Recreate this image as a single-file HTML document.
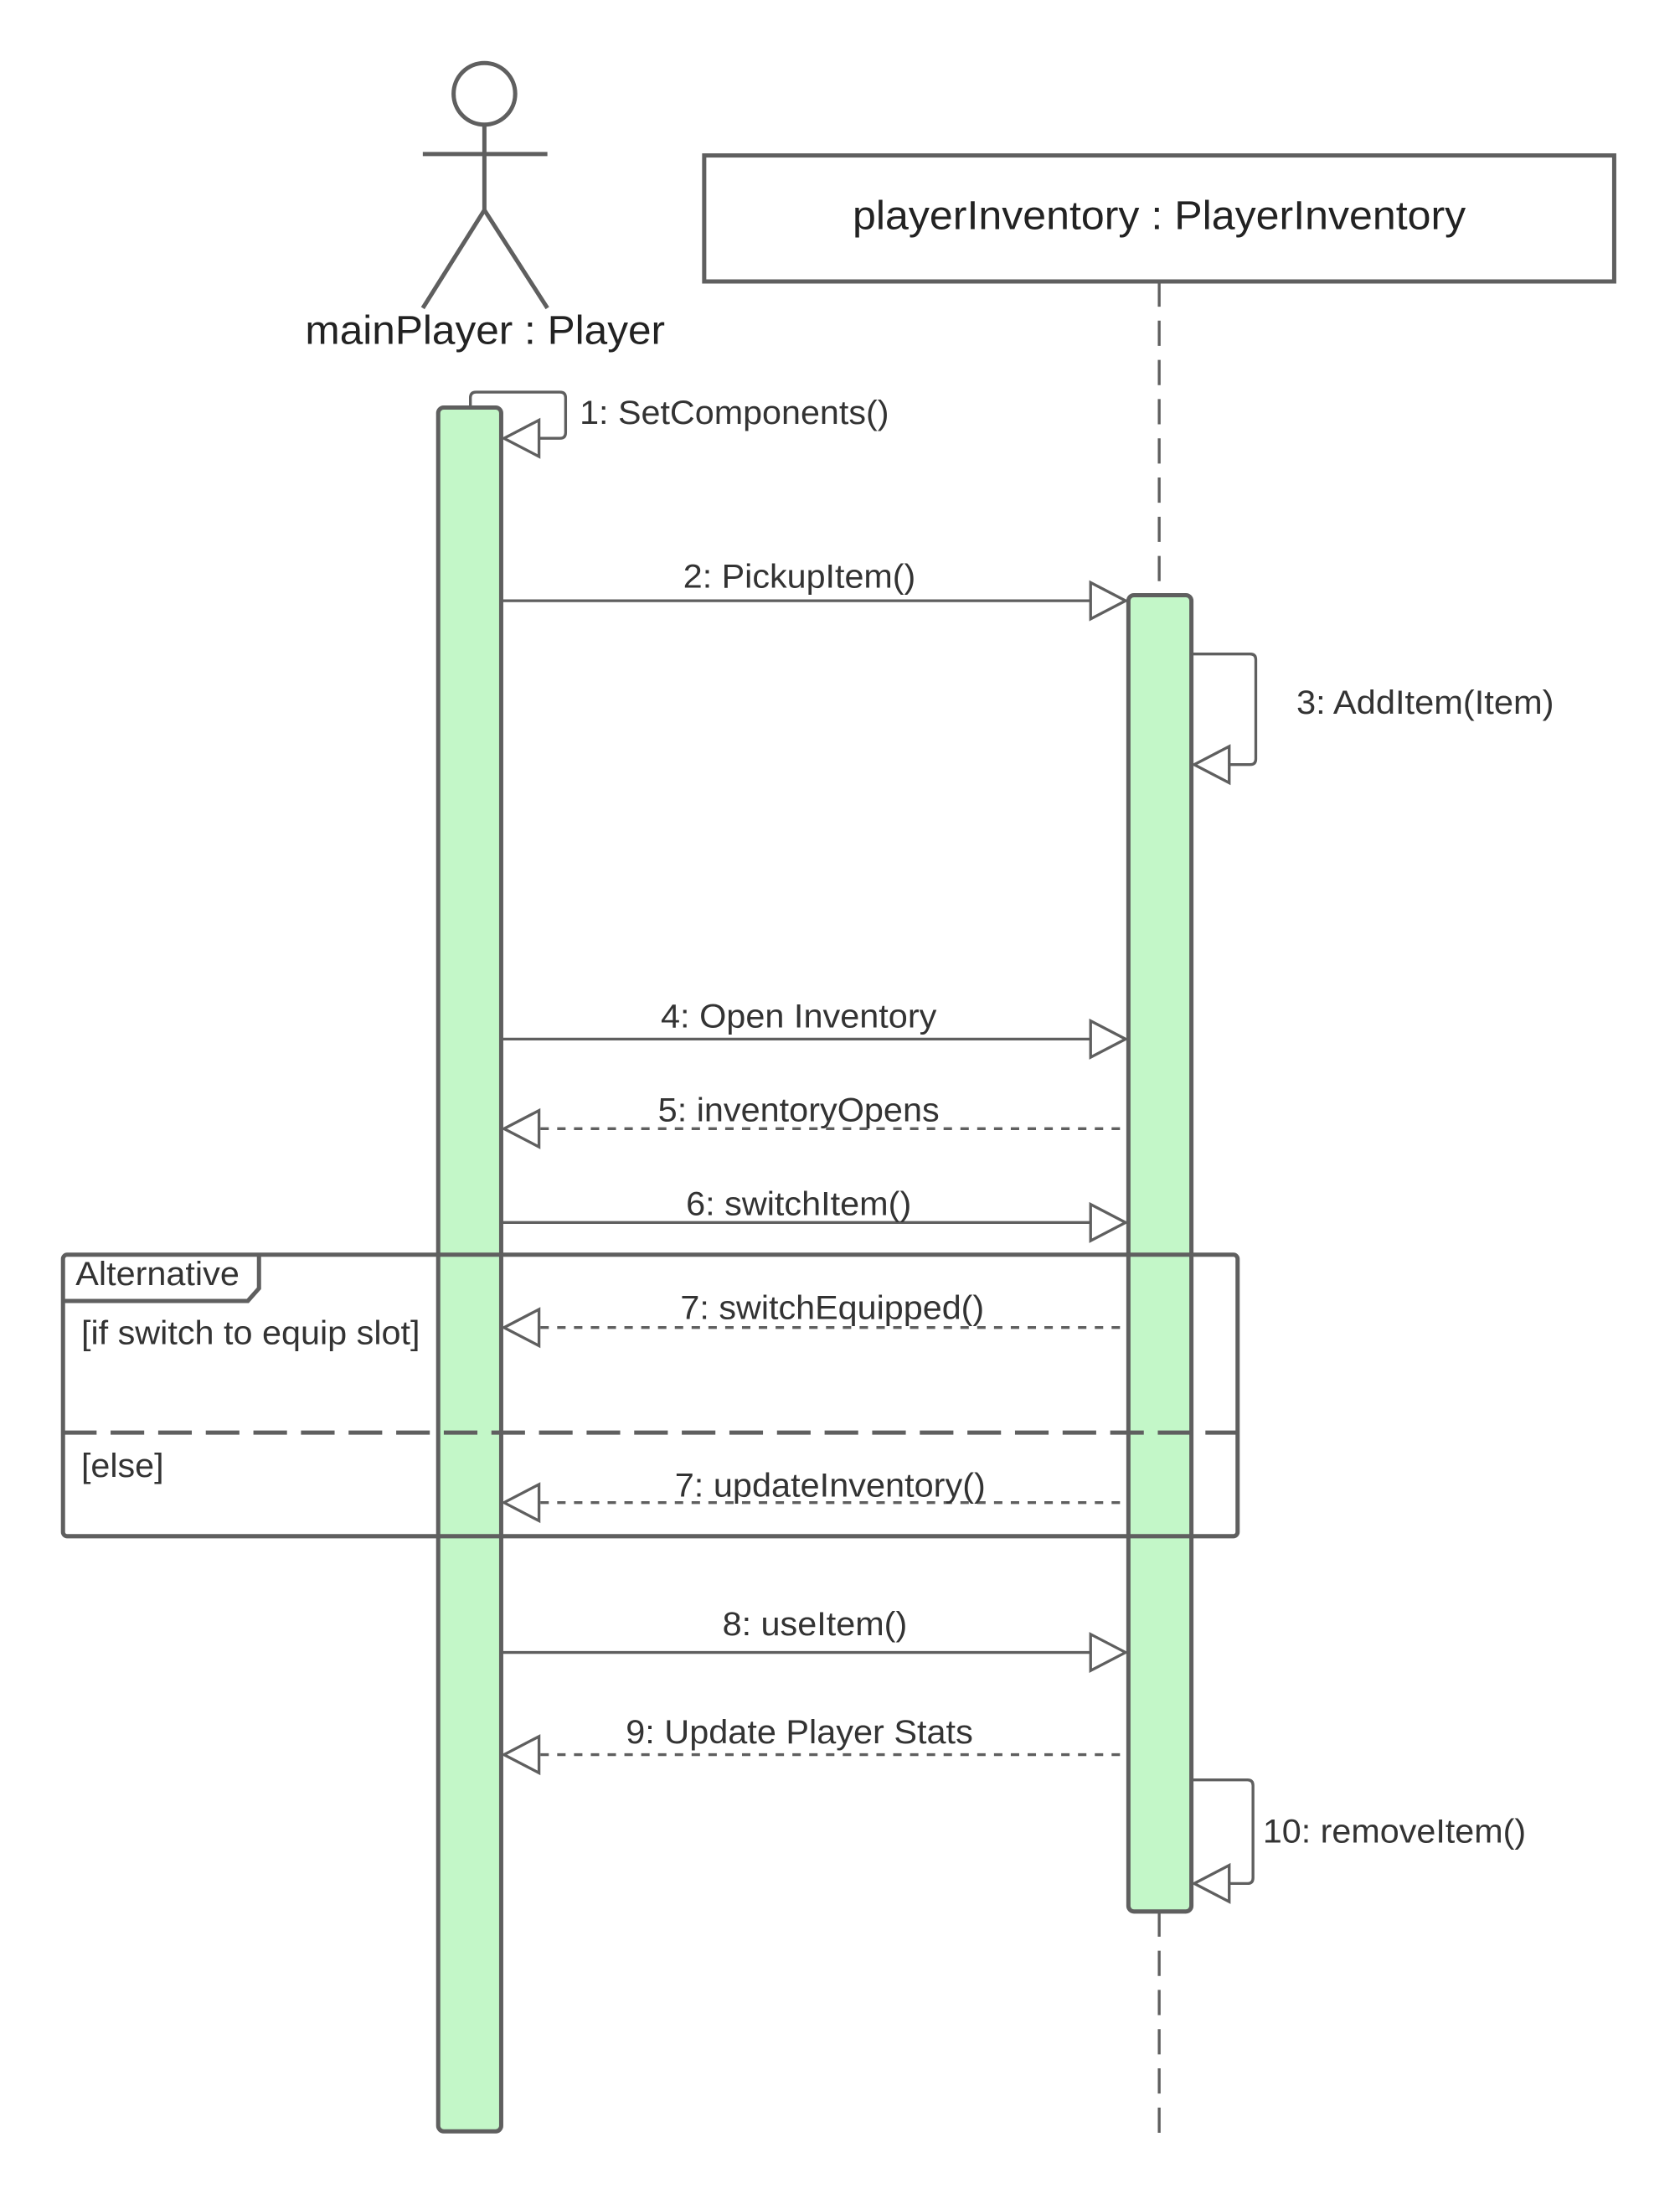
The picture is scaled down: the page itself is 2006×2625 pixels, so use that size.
<!DOCTYPE html>
<html><head><style>html,body{margin:0;padding:0;background:#fff}svg{display:block}</style></head>
<body>
<svg width="2006" height="2625" viewBox="0 0 1200 1570.3" preserveAspectRatio="none" xmlns="http://www.w3.org/2000/svg" font-family="Liberation Sans, Arial, sans-serif" fill="#333">
<g stroke="#5f5f5f" stroke-width="3" fill="none">
<circle cx="346" cy="67" r="22"/>
<line x1="346" y1="89" x2="346" y2="150"/>
<line x1="302" y1="110" x2="391" y2="110"/>
<polyline points="302,220 346,150 391,220"/>
<rect x="503" y="111" width="650" height="90" fill="#fff"/>
<line x1="828" y1="201" x2="828" y2="425" stroke-width="2" stroke-dasharray="18,10"/>
<line x1="828" y1="1365" x2="828" y2="1525" stroke-width="2" stroke-dasharray="18,10"/>
<rect x="313" y="291" width="45" height="1231" rx="4" fill="#c3f7c8"/>
<rect x="806" y="425" width="45" height="940" rx="4" fill="#c3f7c8"/>
</g>
<g stroke="#5f5f5f" stroke-width="2" fill="none">
<path d="M336,291 V284 Q336,280 340,280 H400 Q404,280 404,284 V309 Q404,313 400,313 H360"/>
<path d="M851,467 H893 Q897,467 897,471 V542 Q897,546 893,546 H853"/>
<path d="M851,1271 H891 Q895,1271 895,1275 V1341 Q895,1345 891,1345 H853"/>
<line x1="358" y1="429" x2="780" y2="429"/>
<line x1="358" y1="742" x2="780" y2="742"/>
<line x1="358" y1="873" x2="780" y2="873"/>
<line x1="358" y1="1180" x2="780" y2="1180"/>
<g stroke-dasharray="6,6">
<line x1="386" y1="806" x2="806" y2="806"/>
<line x1="386" y1="948" x2="806" y2="948"/>
<line x1="386" y1="1073" x2="806" y2="1073"/>
<line x1="386" y1="1253" x2="806" y2="1253"/>
</g>
</g>
<g stroke="#5f5f5f" stroke-width="2" fill="#fff">
<polygon points="360,313 385,300 385,326"/>
<polygon points="853,546 878,533 878,559"/>
<polygon points="853,1345 878,1332 878,1358"/>
<polygon points="804,429 779,416 779,442"/>
<polygon points="804,742 779,729 779,755"/>
<polygon points="804,873 779,860 779,886"/>
<polygon points="804,1180 779,1167 779,1193"/>
<polygon points="360,806 385,793 385,819"/>
<polygon points="360,948 385,935 385,961"/>
<polygon points="360,1073 385,1060 385,1086"/>
<polygon points="360,1253 385,1240 385,1266"/>
</g>
<g stroke="#5f5f5f" stroke-width="3" fill="none">
<rect x="45" y="896" width="839" height="201" rx="3"/>
<polyline points="45,929 177,929 185,920 185,896"/>
<line x1="45" y1="1023" x2="884" y2="1023" stroke-dasharray="24,10"/>
</g>
<g font-size="29" fill="#222" dominant-baseline="central" lengthAdjust="spacingAndGlyphs">
<text x="218" y="236" textLength="257" lengthAdjust="spacingAndGlyphs">mainPlayer : Player</text>
<text x="609" y="154" textLength="438" lengthAdjust="spacingAndGlyphs">playerInventory : PlayerInventory</text>
</g>
<g font-size="24" dominant-baseline="central">
<text x="414" y="295" textLength="221" lengthAdjust="spacingAndGlyphs">1: SetComponents()</text>
<text x="926" y="502" textLength="184" lengthAdjust="spacingAndGlyphs">3: AddItem(Item)</text>
<text x="902" y="1308" textLength="188" lengthAdjust="spacingAndGlyphs">10: removeItem()</text>
<text x="54" y="910" textLength="117" lengthAdjust="spacingAndGlyphs">Alternative</text>
<text x="58" y="952" textLength="242" lengthAdjust="spacingAndGlyphs">[if switch to equip slot]</text>
<text x="58" y="1047" textLength="59" lengthAdjust="spacingAndGlyphs">[else]</text>
<text x="488" y="412" textLength="166" lengthAdjust="spacingAndGlyphs">2: PickupItem()</text>
<text x="472" y="726" textLength="197" lengthAdjust="spacingAndGlyphs">4: Open Inventory</text>
<text x="470" y="793" textLength="201" lengthAdjust="spacingAndGlyphs">5: inventoryOpens</text>
<text x="490" y="860" textLength="161" lengthAdjust="spacingAndGlyphs">6: switchItem()</text>
<text x="486" y="934" textLength="217" lengthAdjust="spacingAndGlyphs">7: switchEquipped()</text>
<text x="482" y="1061" textLength="222" lengthAdjust="spacingAndGlyphs">7: updateInventory()</text>
<text x="516" y="1160" textLength="132" lengthAdjust="spacingAndGlyphs">8: useItem()</text>
<text x="447" y="1237" textLength="248" lengthAdjust="spacingAndGlyphs">9: Update Player Stats</text>
</g>
</svg>
</body></html>
